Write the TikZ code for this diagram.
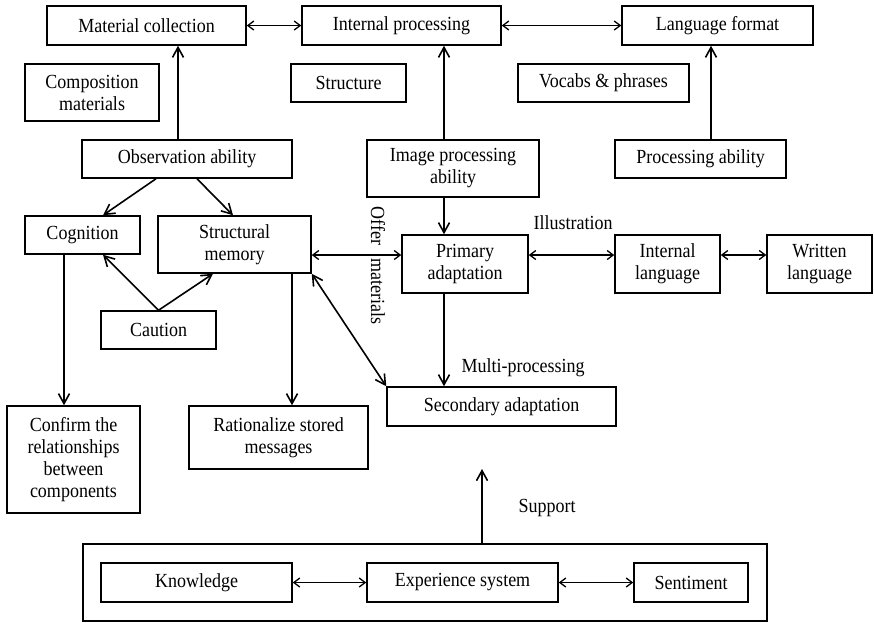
\documentclass[tikz,border=0pt]{standalone}
\usepackage{fontspec}
\setmainfont{Liberation Serif}[FakeStretch=0.9]
\usetikzlibrary{arrows.meta}
\begin{document}
\begin{tikzpicture}[x=1pt,y=-1pt,
  txt/.style={font=\fontsize{20}{22}\selectfont},
  box/.style={txt, draw, line width=1.5pt, inner sep=0pt, align=center},
  lbl/.style={txt, inner sep=0pt},
  arr/.style={line width=1.6pt, -{Straight Barb[length=10pt,width=11pt,line width=1.6pt]}},
  dbl/.style={line width=1.3pt, {Straight Barb[length=6pt,width=9pt,line width=1.3pt]}-{Straight Barb[length=6pt,width=9pt,line width=1.3pt]}},
]
\useasboundingbox (0,0) rectangle (874,622);

% top row
\node[box, minimum width=199pt, minimum height=39pt] (mc) at (146.5,25.5) {Material collection};
\node[box, minimum width=199pt, minimum height=39pt] (ip) at (401.5,25.5) {Internal processing};
\node[box, minimum width=191pt, minimum height=39pt] (lf) at (717.5,25.5) {Language format};

% second row
\node[box, minimum width=134pt, minimum height=57pt] (cm) at (92,92.5) {Composition\\materials};
\node[box, minimum width=115pt, minimum height=38pt] (st) at (348.5,83) {Structure};
\node[box, minimum width=171pt, minimum height=38pt] (vp) at (603.5,83) {Vocabs \& phrases};

% abilities
\node[box, minimum width=210pt, minimum height=38pt] (obs) at (187,159) {Observation ability};
\node[box, minimum width=172pt, minimum height=57pt] (ipa) at (453,168.5) {Image processing\\ability};
\node[box, minimum width=171pt, minimum height=38pt] (pa) at (700.5,159) {Processing ability};

% middle part
\node[box, minimum width=115pt, minimum height=38pt] (cog) at (82.5,235) {Cognition};
\node[box, minimum width=153pt, minimum height=57pt] (sm) at (234.5,244.5) {Structural\\memory};
\node[box, minimum width=115pt, minimum height=38pt] (cau) at (158.5,330) {Caution};
\node[box, minimum width=126pt, minimum height=58pt] (prim) at (465,264) {Primary\\adaptation};
\node[box, minimum width=105pt, minimum height=58pt] (il) at (667.5,264) {Internal\\language};
\node[box, minimum width=105pt, minimum height=58pt] (wl) at (819.5,264) {Written\\language};

% lower part
\node[box, minimum width=133pt, minimum height=107pt] (conf) at (73.5,459.5) {Confirm the\\relationships\\between\\components};
\node[box, minimum width=179pt, minimum height=63pt] (rat) at (278.5,437.5) {Rationalize stored\\messages};
\node[box, minimum width=229pt, minimum height=39pt] (sec) at (501.5,406.5) {Secondary adaptation};

% experience frame
\node[box, minimum width=684pt, minimum height=77pt] (outer) at (425,582.5) {};
\node[box, minimum width=191pt, minimum height=39pt] (kn) at (196.5,582.5) {Knowledge};
\node[box, minimum width=191pt, minimum height=39pt] (es) at (462.5,582.5) {Experience system};
\node[box, minimum width=114pt, minimum height=39pt] (sen) at (691,582.5) {Sentiment};
\coordinate (suptip) at (482,469);

% labels
\node[lbl] (lill) at (573,223) {Illustration};
\node[lbl] (lmul) at (523,368) {Multi-processing};
\node[lbl] (lsup) at (547,508) {Support};
\node[lbl, rotate=-90] (loff) at (378,265.5) {Offer\hspace{13pt}materials};

% connectors
\draw[dbl] (mc.east) -- (ip.west);
\draw[dbl] (ip.east) -- (lf.west);
\draw[arr] (178,0 |- obs.north) -- (178,0 |- mc.south);
\draw[arr] (444,0 |- ipa.north) -- (444,0 |- ip.south);
\draw[arr] (711,0 |- pa.north) -- (711,0 |- lf.south);
\draw[arr] (156,0 |- obs.south) -- (103,0 |- cog.north);
\draw[arr] (197,0 |- obs.south) -- (233,0 |- sm.north);
\draw[arr] (cau.north) -- (103,0 |- cog.south);
\draw[arr] (cau.north) -- (213,0 |- sm.south);
\draw[arr] (64,0 |- cog.south) -- (64,0 |- conf.north);
\draw[arr] (292,0 |- sm.south) -- (292,0 |- rat.north);
\draw[dbl] (0,255 -| sm.east) -- (0,255 -| prim.west);
\draw[line width=1.6pt, {Straight Barb[length=10pt,width=11pt,line width=1.6pt]}-{Straight Barb[length=10pt,width=11pt,line width=1.6pt]}] (sm.south east) -- (sec.north west);
\draw[arr] (444,0 |- ipa.south) -- (444,0 |- prim.north);
\draw[arr] (444,0 |- prim.south) -- (444,0 |- sec.north);
\draw[dbl] (0,255 -| prim.east) -- (0,255 -| il.west);
\draw[dbl] (0,255 -| il.east) -- (0,255 -| wl.west);
\draw[arr] (482,0 |- outer.north) -- (suptip);
\draw[dbl] (kn.east) -- (es.west);
\draw[dbl] (es.east) -- (sen.west);
\end{tikzpicture}
\end{document}
